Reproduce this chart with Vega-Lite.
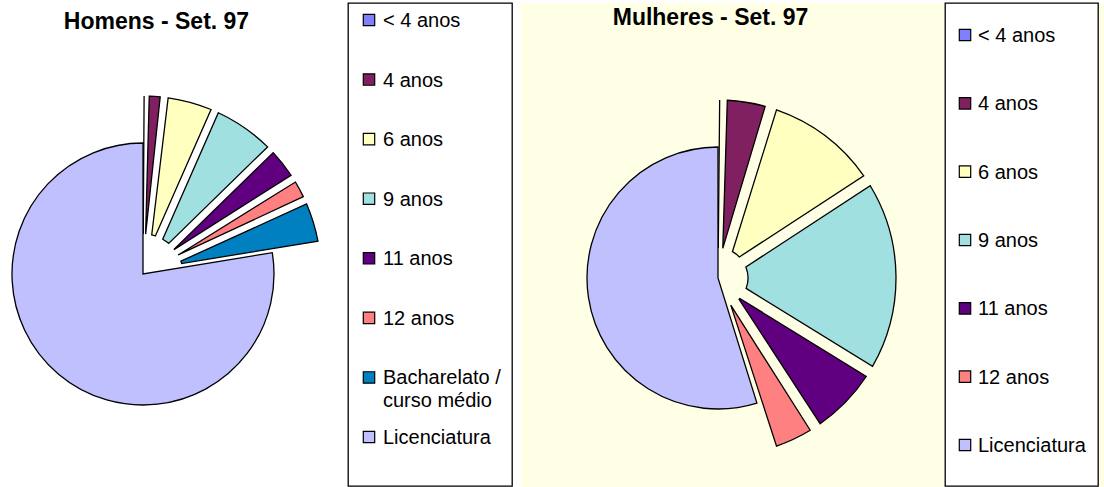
{
  "$schema": "https://vega.github.io/schema/vega-lite/v6.json",
  "background": "white",
  "padding": {"top": 2, "left": 0, "right": 0, "bottom": 0},
  "config": {
    "view": {"stroke": null},
    "concat": {"spacing": 0},
    "font": "Liberation Sans",
    "title": {"font": "Liberation Sans", "fontSize": 23, "fontWeight": "bold", "color": "#000000"}
  },
  "datasets": {
    "homens": [
      {"cat": "< 4 anos", "ordem": 1, "pct": 0.2},
      {"cat": "4 anos", "ordem": 2, "pct": 1.7},
      {"cat": "6 anos", "ordem": 3, "pct": 4.7},
      {"cat": "9 anos", "ordem": 4, "pct": 6.1},
      {"cat": "11 anos", "ordem": 5, "pct": 3.3},
      {"cat": "12 anos", "ordem": 6, "pct": 2.2},
      {"cat": "Bacharelato /\ncurso médio", "ordem": 7, "pct": 4.2},
      {"cat": "Licenciatura", "ordem": 8, "pct": 77.6}
    ],
    "mulheres": [
      {"cat": "< 4 anos", "ordem": 1, "pct": 0.3},
      {"cat": "4 anos", "ordem": 2, "pct": 4.5},
      {"cat": "6 anos", "ordem": 3, "pct": 11.0},
      {"cat": "9 anos", "ordem": 4, "pct": 18.0},
      {"cat": "11 anos", "ordem": 5, "pct": 7.0},
      {"cat": "12 anos", "ordem": 6, "pct": 4.4},
      {"cat": "Licenciatura", "ordem": 8, "pct": 54.8}
    ]
  },
  "spacing": 0,
  "hconcat": [
    {
      "width": 347, "height": 485,
      "title": {"text": "Homens - Set. 97", "offset": -31, "dx": -17},
      "data": {"name": "homens"},
      "transform": [{"stack": "pct", "groupby": [], "sort": [{"field": "ordem", "order": "ascending"}], "as": ["t0", "t1"]}],
      "encoding": {
        "x": {"datum": 143, "type": "quantitative", "axis": null, "scale": {"domain": [0, 347], "nice": false, "zero": false}},
        "y": {"datum": 271, "type": "quantitative", "axis": null, "scale": {"domain": [485, 0], "nice": false, "zero": false}},
        "theta": {"field": "t0", "type": "quantitative", "scale": {"domain": [0, 100]}},
        "theta2": {"field": "t1"},
        "color": {"field": "cat", "type": "nominal", "legend": null,
          "scale": {"domain": ["< 4 anos","4 anos","6 anos","9 anos","11 anos","12 anos","Bacharelato /\ncurso médio","Licenciatura"],
                    "range": ["#8080FF","#802060","#FFFFC0","#A0E0E0","#600080","#FF8080","#0080C0","#C0C0FF"]}}
      },
      "layer": [
        {"transform": [{"filter": "datum.cat !== 'Licenciatura'"}],
         "mark": {"type": "arc", "radius": 178, "radius2": 40, "padAngle": 0.044, "stroke": "#000000", "strokeWidth": 1.3}},
        {"transform": [{"filter": "datum.cat === 'Licenciatura'"}],
         "mark": {"type": "arc", "radius": 131, "stroke": "#000000", "strokeWidth": 1.3}}
      ]
    },
    {
      "width": 164, "height": 483,
      "view": {"stroke": "#000000", "strokeWidth": 1.3, "fill": "white"},
      "data": {"name": "homens"},
      "encoding": {
        "y": {"field": "cat", "type": "nominal", "axis": null,
              "sort": ["< 4 anos","4 anos","6 anos","9 anos","11 anos","12 anos","Bacharelato /\ncurso médio","Licenciatura"],
              "scale": {"type": "point", "range": [17, 434], "padding": 0}},
        "x": {"datum": 21, "type": "quantitative", "axis": null, "scale": {"domain": [0, 164], "nice": false, "zero": false}}
      },
      "layer": [
        {"mark": {"type": "point", "shape": "square", "filled": true, "size": 130, "stroke": "#000000", "strokeWidth": 1.2, "opacity": 1},
         "encoding": {"color": {"field": "cat", "type": "nominal", "legend": null,
              "scale": {"domain": ["< 4 anos","4 anos","6 anos","9 anos","11 anos","12 anos","Bacharelato /\ncurso médio","Licenciatura"],
                        "range": ["#8080FF","#802060","#FFFFC0","#A0E0E0","#600080","#FF8080","#0080C0","#C0C0FF"]}}}},
        {"mark": {"type": "text", "align": "left", "baseline": "alphabetic", "dx": 14, "dy": 7, "fontSize": 20, "font": "Liberation Sans", "color": "#000000", "lineBreak": "\n", "lineHeight": 23},
         "encoding": {"text": {"field": "cat"}}}
      ]
    },
    {"width": 8, "height": 485, "data": {"values": []}, "mark": "point"},
    {
      "width": 423, "height": 485,
      "view": {"fill": "#FFFFE5", "stroke": null},
      "title": {"text": "Mulheres - Set. 97", "offset": -27, "dx": -22},
      "data": {"name": "mulheres"},
      "transform": [{"stack": "pct", "groupby": [], "sort": [{"field": "ordem", "order": "ascending"}], "as": ["t0", "t1"]}],
      "encoding": {
        "x": {"datum": 197, "type": "quantitative", "axis": null, "scale": {"domain": [0, 423], "nice": false, "zero": false}},
        "y": {"datum": 275, "type": "quantitative", "axis": null, "scale": {"domain": [485, 0], "nice": false, "zero": false}},
        "theta": {"field": "t0", "type": "quantitative", "scale": {"domain": [0, 100]}},
        "theta2": {"field": "t1"},
        "color": {"field": "cat", "type": "nominal", "legend": null,
          "scale": {"domain": ["< 4 anos","4 anos","6 anos","9 anos","11 anos","12 anos","Bacharelato /\ncurso médio","Licenciatura"],
                    "range": ["#8080FF","#802060","#FFFFC0","#A0E0E0","#600080","#FF8080","#0080C0","#C0C0FF"]}}
      },
      "layer": [
        {"transform": [{"filter": "datum.cat !== 'Licenciatura'"}],
         "mark": {"type": "arc", "radius": 178, "radius2": 30, "padAngle": 0.066, "stroke": "#000000", "strokeWidth": 1.3}},
        {"transform": [{"filter": "datum.cat === 'Licenciatura'"}],
         "mark": {"type": "arc", "radius": 131, "stroke": "#000000", "strokeWidth": 1.3}}
      ]
    },
    {
      "width": 153, "height": 483,
      "view": {"stroke": "#000000", "strokeWidth": 1.3, "fill": "white"},
      "data": {"name": "mulheres"},
      "encoding": {
        "y": {"field": "cat", "type": "nominal", "axis": null,
              "sort": ["< 4 anos","4 anos","6 anos","9 anos","11 anos","12 anos","Licenciatura"],
              "scale": {"type": "point", "range": [32, 442], "padding": 0}},
        "x": {"datum": 20, "type": "quantitative", "axis": null, "scale": {"domain": [0, 153], "nice": false, "zero": false}}
      },
      "layer": [
        {"mark": {"type": "point", "shape": "square", "filled": true, "size": 130, "stroke": "#000000", "strokeWidth": 1.2, "opacity": 1},
         "encoding": {"color": {"field": "cat", "type": "nominal", "legend": null,
              "scale": {"domain": ["< 4 anos","4 anos","6 anos","9 anos","11 anos","12 anos","Bacharelato /\ncurso médio","Licenciatura"],
                        "range": ["#8080FF","#802060","#FFFFC0","#A0E0E0","#600080","#FF8080","#0080C0","#C0C0FF"]}}}},
        {"mark": {"type": "text", "align": "left", "baseline": "alphabetic", "dx": 13, "dy": 7, "fontSize": 20, "font": "Liberation Sans", "color": "#000000", "lineBreak": "\n", "lineHeight": 23},
         "encoding": {"text": {"field": "cat"}}}
      ]
    },
    {"width": 7, "height": 485, "data": {"values": []}, "mark": "point", "view": {"fill": "#FFFFE5", "stroke": null}}
  ]
}
